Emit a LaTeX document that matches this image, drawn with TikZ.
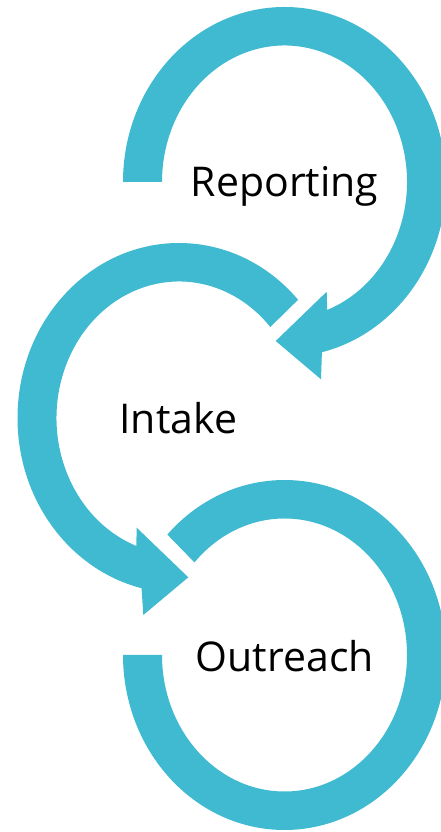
\documentclass[tikz,border=0pt]{standalone}
\usepackage{fontspec}
\setmainfont{Open Sans}
\definecolor{ringblue}{RGB}{64,186,208}

\begin{document}
\begin{tikzpicture}
[x=1pt,y=1pt,ring/.style={fill=ringblue},steptext/.style={font=\fontsize{41}{49}\selectfont,anchor=base,inner sep=0pt}]
\useasboundingbox (0,0) rectangle (440,832);

% Reporting
\begin{scope}[shift={(284.5,650)}]
\fill[ring] (180:161.5 and 175) arc[start angle=180,end angle=-76.6,x radius=161.5,y radius=175]
  -- (36.5,-197.3) -- (-8.8,-159) -- (42.2,-109.7)
  -- (-69.6:122.5 and 136.5) arc[start angle=-69.6,end angle=180,x radius=122.5,y radius=136.5] -- cycle;
\node[steptext] (reporting) at (0,-14.7) {Reporting};
\end{scope}

% Intake
\begin{scope}[shift={(179,414)}]
\fill[ring] (42.5:161.5 and 175) arc[start angle=42.5,end angle=256.6,x radius=161.5,y radius=175]
  -- (-35.7,-197) -- (9.3,-159.3) -- (-42.3,-109.7)
  -- (249.6:122.5 and 136.5) arc[start angle=249.6,end angle=41.8,x radius=122.5,y radius=136.5] -- cycle;
\node[steptext] (intake) at (-0.7,-16) {Intake};
\end{scope}

% Outreach
\begin{scope}[shift={(284.5,177)}]
\fill[ring] (136.5:161.5 and 175) arc[start angle=136.5,end angle=-180,x radius=161.5,y radius=175]
  -- (180:122.5 and 136.5) arc[start angle=-180,end angle=137.3,x radius=122.5,y radius=136.5] -- cycle;
\node[steptext] (outreach) at (0.2,-16.5) {Outreach};
\end{scope}

\end{tikzpicture}
\end{document}
